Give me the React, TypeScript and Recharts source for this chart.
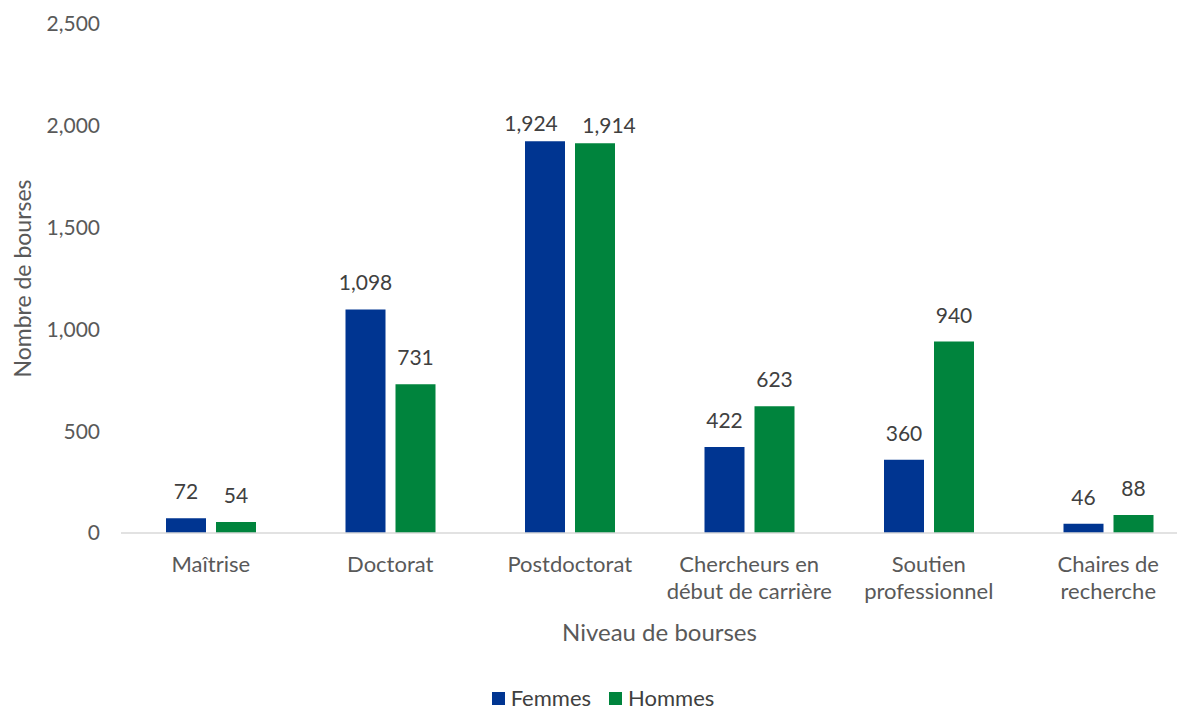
import React from "react";
import { BarChart, Bar, XAxis, YAxis, Legend, LabelList } from "recharts";

const categories = [
  ["Maîtrise"],
  ["Doctorat"],
  ["Postdoctorat"],
  ["Chercheurs en", "début de carrière"],
  ["Soutien", "professionnel"],
  ["Chaires de", "recherche"],
];
const femmes = [72, 1098, 1924, 422, 360, 46];
const hommes = [54, 731, 1914, 623, 940, 88];
const yTicks = [0, 500, 1000, 1500, 2000, 2500];

const BLUE = "#003591";
const GREEN = "#00843D";
const FONT = "Lato, 'Noto Sans', sans-serif";

const data = categories.map((c, i) => ({
  name: c.join(" "),
  femmes: femmes[i],
  hommes: hommes[i],
}));

const fmt = (v: number) => v.toLocaleString("en-US");

function CategoryTick(props: any) {
  const { x, y, payload, index } = props;
  const lines = categories[index] ?? [payload.value];
  return (
    <g transform={`translate(${x},${y})`}>
      {lines.map((l: string, i: number) => (
        <text
          key={i}
          x={0}
          y={31 + i * 27}
          textAnchor="middle"
          fill="#595959"
          fontSize={22}
          fontFamily={FONT}
        >
          {l}
        </text>
      ))}
    </g>
  );
}

// Excel pushes the two close labels of the tallest pair apart
function makeValueLabel(side: number) {
  return function ValueLabel(props: any) {
    const { x, y, width, value, index } = props;
    const crowded = index === 2;
    const cx = x + width / 2 + (crowded ? side * 14 : 0);
    const ty = y - (crowded ? 10 : 19);
    return (
      <text x={cx} y={ty} textAnchor="middle" fill="#404040" fontSize={21} fontFamily={FONT}>
        {fmt(value)}
      </text>
    );
  };
}

function YTitle(props: any) {
  const { viewBox } = props;
  const cy = viewBox.y + viewBox.height / 2;
  return (
    <text
      x={14}
      y={cy}
      transform={`rotate(-90, 14, ${cy})`}
      textAnchor="middle"
      dominantBaseline="central"
      fill="#595959"
      fontSize={23}
      fontFamily={FONT}
    >
      Nombre de bourses
    </text>
  );
}

function LegendContent() {
  const items = [
    { label: "Femmes", color: BLUE },
    { label: "Hommes", color: GREEN },
  ];
  return (
    <div
      style={{
        display: "flex",
        justifyContent: "center",
        gap: 18,
        paddingTop: 33,
        fontFamily: FONT,
        fontSize: 22,
        lineHeight: "24px",
        color: "#404040",
      }}
    >
      {items.map((it) => (
        <div key={it.label} style={{ display: "flex", alignItems: "center", gap: 6 }}>
          <span style={{ display: "inline-block", width: 13, height: 13, background: it.color }} />
          <span>{it.label}</span>
        </div>
      ))}
    </div>
  );
}

export default function App() {
  return (
    <div style={{ width: 1177, overflow: "hidden", background: "#fff" }}>
      <BarChart
        width={1200}
        height={705}
        data={data}
        margin={{ top: 16, right: 10, bottom: 0, left: 0 }}
        barCategoryGap={45}
        barGap={10}
        barSize={40}
      >
        <XAxis
          dataKey="name"
          axisLine={{ stroke: "#d9d9d9", strokeWidth: 1.5 }}
          tickLine={false}
          tick={<CategoryTick />}
          interval={0}
          height={120}
          label={{
            value: "Niveau de bourses",
            position: "insideBottom",
            offset: 12,
            fill: "#595959",
            fontSize: 24,
            fontFamily: FONT,
          }}
        />
        <YAxis
          width={113}
          domain={[0, 2500]}
          ticks={yTicks}
          axisLine={false}
          tickLine={false}
          tickSize={0}
          tickMargin={21}
          tickFormatter={fmt}
          tick={{ fill: "#595959", fontSize: 21, fontFamily: FONT }}
          label={<YTitle />}
        />
        <Legend verticalAlign="bottom" height={60} content={<LegendContent />} />
        <Bar dataKey="femmes" name="Femmes" fill={BLUE} isAnimationActive={false}>
          <LabelList dataKey="femmes" content={makeValueLabel(-1)} />
        </Bar>
        <Bar dataKey="hommes" name="Hommes" fill={GREEN} isAnimationActive={false}>
          <LabelList dataKey="hommes" content={makeValueLabel(1)} />
        </Bar>
      </BarChart>
    </div>
  );
}
